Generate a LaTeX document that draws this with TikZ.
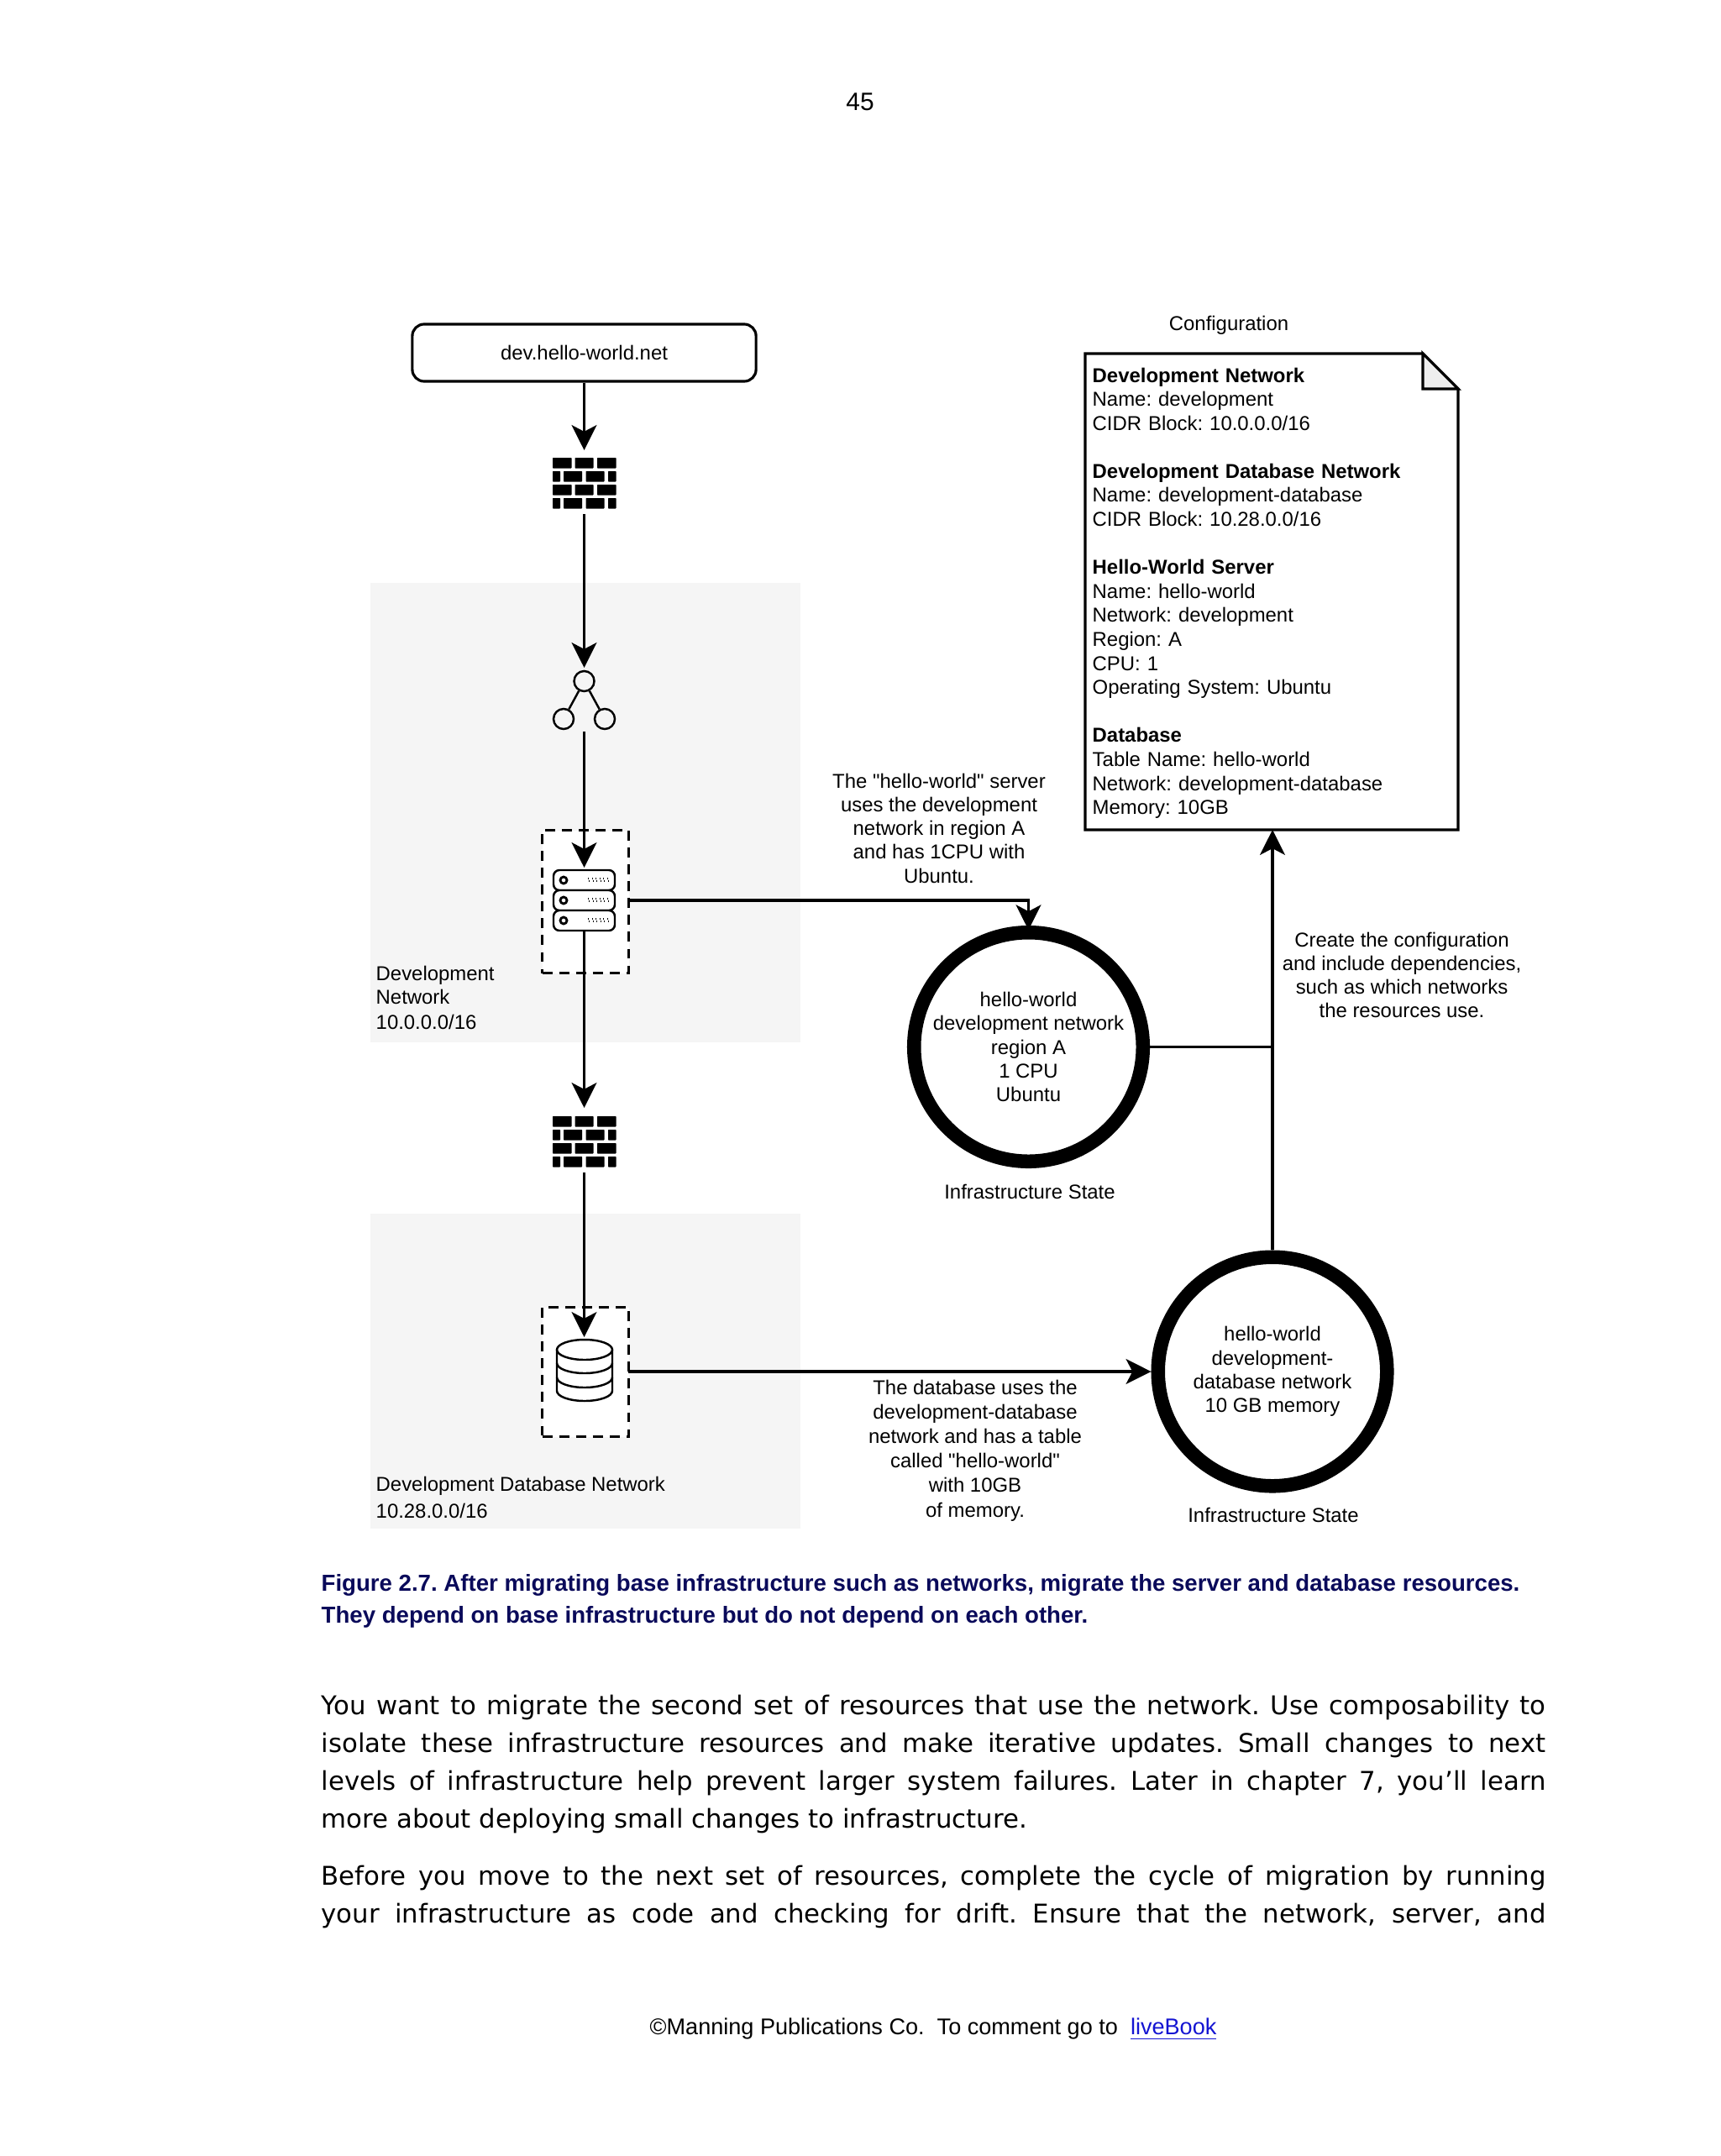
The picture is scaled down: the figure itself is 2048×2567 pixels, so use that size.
\documentclass[tikz,border=0pt]{standalone}
\usepackage{fontspec}
\setmainfont{Liberation Sans}
\newfontfamily\bodyfont{DejaVu Sans}
\usepackage{tikz}
\usetikzlibrary{arrows.meta, positioning}
\definecolor{netgray}{RGB}{245,245,245}
\definecolor{foldgray}{RGB}{238,238,238}
\definecolor{capblue}{RGB}{10,10,90}
\definecolor{linkblue}{RGB}{20,20,210}
\tikzset{
  every node/.append style={execute at begin node=\frenchspacing},
  flow/.style={line width=0.9pt, -{Stealth[length=8.5pt,width=8.5pt,inset=2.2pt]}},
  plainline/.style={line width=0.9pt},
  netbox/.style={fill=netgray, draw=none, inner sep=0pt, anchor=north west, minimum width=5.12cm},
  dashbox/.style={draw, fill=white, line width=0.9pt, dash pattern=on 3.4pt off 2.3pt, inner sep=0pt, anchor=north west, minimum width=1.03cm},
  state/.style={circle, draw, line width=4.7pt, minimum size=77.5pt, inner sep=0pt, align=center, font=\fontsize{6.8}{8.03}\selectfont},
  lbl/.style={align=center, font=\fontsize{6.8}{8.03}\selectfont, inner sep=0pt},
  lbll/.style={align=left, anchor=north west, font=\fontsize{6.8}{8.1}\selectfont, inner sep=0pt},
  nodecirc/.style={circle, draw, line width=0.7pt, minimum size=0.24cm, inner sep=0pt},
  paraline/.style={anchor=base west, inner sep=0pt, font=\bodyfont\fontsize{8.75}{12}\selectfont},
  capline/.style={anchor=base west, inner sep=0pt, text=capblue, font=\bfseries\fontsize{7.85}{10}\selectfont},
  brick/.style={fill=black, rounded corners=0.2pt, draw=none}
}
\newcommand{\firewallicon}[2]{%
  \foreach \by in {-30,2}{
    \foreach \bx/\bw in {0/22.5,26.5/22,53/22.5}{\fill[brick] (#1-37.5+\bx,#2+\by) rectangle ++(\bw,12.5);}
    \foreach \bx/\bw in {0/9,13/22,39.5/22,66/9.5}{\fill[brick] (#1-37.5+\bx,#2+\by+16) rectangle ++(\bw,12.5);}
  }
}
\begin{document}
\begin{tikzpicture}[x=0.01cm,y=-0.01cm]
  \useasboundingbox (0,0) rectangle (2048,2567);
  \fill[white] (0,0) rectangle (2048,2567);

  \node[font=\fontsize{8.5}{10}\selectfont] (pagenum) at (1024,121) {45};

  % network areas
  \node[netbox, minimum height=5.47cm] (devnet) at (440,693) {};
  \node[netbox, minimum height=3.75cm] (dbnet) at (440,1444) {};

  % top of the flow
  \node[draw, line width=0.9pt, rounded corners=4pt, minimum width=4.09cm, minimum height=0.68cm, font=\fontsize{6.8}{8}\selectfont] (url) at (695.5,420) {dev.hello-world.net};
  \firewallicon{695.5}{575}
  \coordinate (fwonein) at (695.5,536);
  \coordinate (fwoneout) at (695.5,612);
  \draw[flow] (url) -- (fwonein);

  % load balancer
  \node[nodecirc] (lbtop) at (695.5,811) {};
  \node[nodecirc] (lbleft) at (671,856) {};
  \node[nodecirc] (lbright) at (720,856) {};
  \draw[line width=0.7pt] (lbtop) -- (lbleft);
  \draw[line width=0.7pt] (lbtop) -- (lbright);
  \coordinate (lbin) at (695.5,795);
  \coordinate (lbout) at (695.5,871);
  \draw[flow] (fwoneout) -- (lbin);

  % server
  \node[dashbox, minimum height=1.70cm] (srvbox) at (644,987) {};
  \coordinate (srvin) at (695.5,1033);
  \draw[flow] (lbout) -- (srvin);
  \foreach \ry in {1036,1060,1084}{
    \draw[line width=0.7pt, fill=white, rounded corners=2pt] (659,\ry) rectangle (732,\ry+24);
    \draw[line width=0.8pt] (671,\ry+12) circle (4);
    \draw[line width=0.3pt, densely dotted] (700,\ry+10) -- (725,\ry+10);
    \draw[line width=0.3pt, densely dotted] (701,\ry+13) -- (724,\ry+13);
  }
  \coordinate (srvout) at (695.5,1108);
  \coordinate (fwtwoin) at (695.5,1319);
  \draw[flow] (srvout) -- (fwtwoin);
  \firewallicon{695.5}{1359}
  \coordinate (fwtwoout) at (695.5,1396);

  % database
  \node[dashbox, minimum height=1.54cm] (dbbox) at (644,1555) {};
  \coordinate (dbin) at (695.5,1592);
  \draw[flow] (fwtwoout) -- (dbin);
  \draw[line width=0.7pt] (663,1607) -- (663,1656) arc (180:0:33 and 12) -- (729,1607);
  \draw[line width=0.7pt] (696,1607) ellipse (33 and 12);
  \draw[line width=0.7pt] (663,1623) arc (180:0:33 and 12);
  \draw[line width=0.7pt] (663,1640) arc (180:0:33 and 12);

  % states
  \node[state] (statea) at (1224.5,1246.5) {hello-world\\development network\\region A\\1 CPU\\Ubuntu};
  \node[state] (stateb) at (1515,1633) {hello-world\\development-\\database network\\10 GB memory};
  \coordinate (srvport) at (748,1072);
  \coordinate (dbport) at (748,1633);
  \draw[flow] (srvport) -| ([yshift=-1.5pt]statea.north);
  \draw[flow] (dbport) -- (stateb.west);

  % configuration note
  \node[lbl] (conftitle) at (1463,387) {Configuration};
  \coordinate (notetl) at (1292,421);
  \draw[line width=0.9pt, fill=white] (notetl) -- (1694,421) -- (1736,463) -- (1736,988) -- (1292,988) -- cycle;
  \draw[line width=0.9pt, fill=foldgray] (1694,421) -- (1736,463) -- (1694,463) -- cycle;
  \coordinate (notebot) at (1515,988);
  \coordinate (joinpt) at (1515,1246.5);
  \draw[flow] (stateb.north) -- (notebot);
  \draw[plainline] (statea.east) -- (joinpt);
  \node[lbll, text width=4.35cm, font=\fontsize{6.8}{8.13}\selectfont] (notetext) at (1300,437) {\textbf{Development Network}\\Name: development\\CIDR Block: 10.0.0.0/16\\[8.13pt]\textbf{Development Database Network}\\Name: development-database\\CIDR Block: 10.28.0.0/16\\[8.13pt]\textbf{Hello-World Server}\\Name: hello-world\\Network: development\\Region: A\\CPU: 1\\Operating System: Ubuntu\\[8.13pt]\textbf{Database}\\Table Name: hello-world\\Network: development-database\\Memory: 10GB};

  % labels
  \node[lbll] (devlabel) at (447,1149) {Development\\Network\\[0.4pt]10.0.0.0/16};
  \node[lbll] (dblabel) at (447,1757) {Development Database Network\\[1pt]10.28.0.0/16};
  \node[lbl] (srvnote) at (1118,986) {The \textquotedbl hello-world\textquotedbl{} server\\uses the development\\network in region A\\and has 1CPU with\\Ubuntu.};
  \node[lbl] (confnote) at (1669,1161) {Create the configuration\\and include dependencies,\\such as which networks\\the resources use.};
  \node[lbl, font=\fontsize{6.8}{8.3}\selectfont] (dbnote) at (1161,1727) {The database uses the\\development-database\\network and has a table\\called \textquotedbl hello-world\textquotedbl\\with 10GB\\of memory.};
  \node[lbl] (statealabel) at (1226,1419) {Infrastructure State};
  \node[lbl] (stateblabel) at (1516,1804) {Infrastructure State};

  % caption and page text
  \node[capline] (capone) at (382,1894) {Figure 2.7. After migrating base infrastructure such as networks, migrate the server and database resources.};
  \node[capline] (captwo) at (382,1932) {They depend on base infrastructure but do not depend on each other.};
  \foreach \ln/\ly/\tx in {a/2041/You want to migrate the second set of resources that use the network. Use composability to,
    b/2086/isolate these infrastructure resources and make iterative updates. Small changes to next,
    c/2131/levels of infrastructure help prevent larger system failures. Later in chapter 7{,} you’ll learn,
    e/2244/Before you move to the next set of resources{,} complete the cycle of migration by running,
    f/2289/your infrastructure as code and checking for drift. Ensure that the network{,} server{,} and}
    \node[paraline] (para\ln) at (382,\ly) {\hbox to 14.57cm{\tx}};
  \node[paraline] (parad) at (382,2176) {more about deploying small changes to infrastructure.};
  \node[anchor=base west, inner sep=0pt, font=\fontsize{7.7}{10}\selectfont] (foot) at (773,2422) {©Manning Publications Co.\ \ To comment go to \ \textcolor{linkblue}{\underline{liveBook}}};
\end{tikzpicture}
\end{document}
